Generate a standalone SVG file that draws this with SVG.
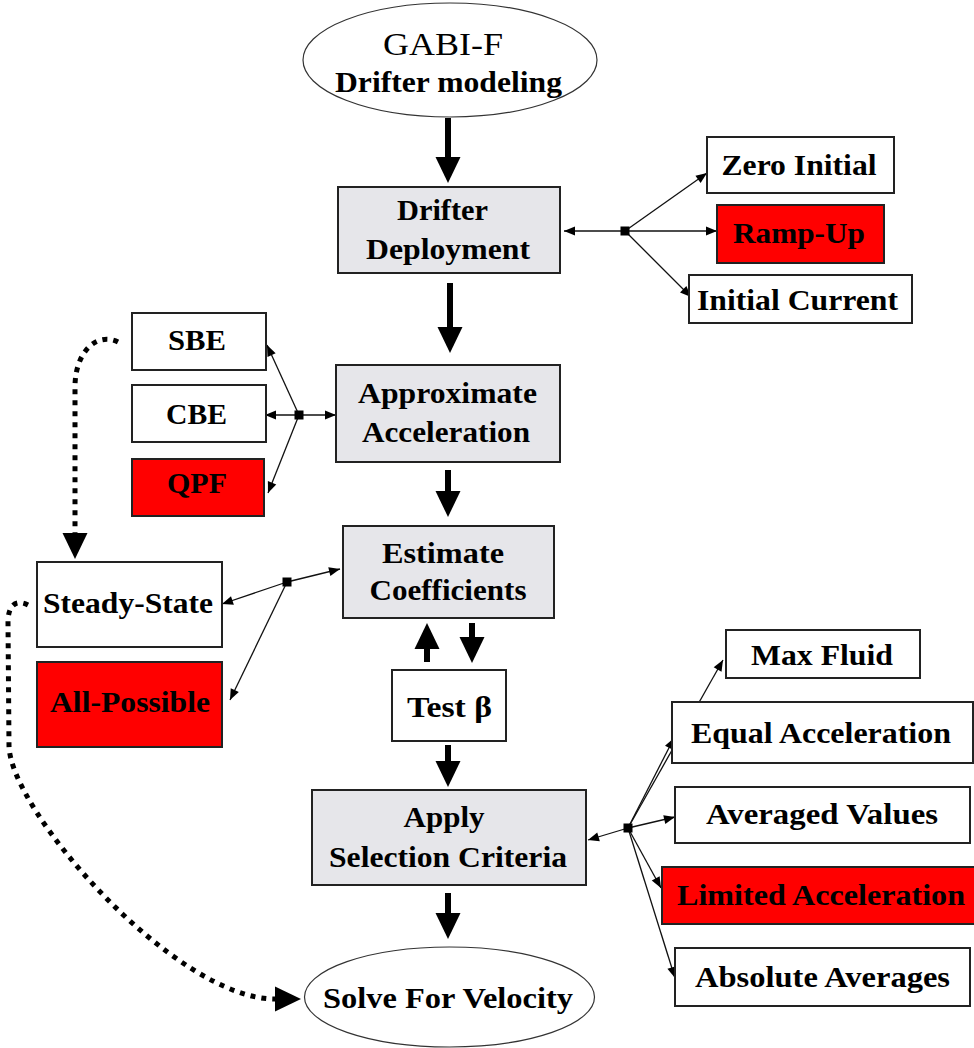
<svg xmlns="http://www.w3.org/2000/svg" width="974" height="1048" viewBox="0 0 974 1048">
  <defs>
    <style>
      .box { stroke: #222; stroke-width: 2; }
      .plain { fill: #fff; }
      .step { fill: #e6e6ea; }
      .hot { fill: #ff0000; }
      .oval { fill: #fff; stroke: #333; stroke-width: 1.2; }
      .t { font-family: "Liberation Serif", "Times New Roman", serif; font-weight: bold; font-size: 29px; text-anchor: middle; fill: #000; }
      .title { font-weight: normal; font-size: 32px; }
      .thin { fill: none; stroke: #111; stroke-width: 1.3; }
      .thick { fill: none; stroke: #000; stroke-width: 6; marker-end: url(#bigHead); }
      .dots { fill: none; stroke: #000; stroke-width: 5; stroke-dasharray: 5 6; marker-end: url(#bigHead); }
      .hub { fill: #000; }
    </style>
    <marker id="bigHead" markerUnits="userSpaceOnUse" markerWidth="26" markerHeight="25" refX="0" refY="12.5" orient="auto" overflow="visible">
      <path d="M0,0 L26,12.5 L0,25 z" fill="#000"/>
    </marker>
    <marker id="head" markerUnits="userSpaceOnUse" markerWidth="11" markerHeight="9" refX="11" refY="4.5" orient="auto" overflow="visible">
      <path d="M0,0 L11,4.5 L0,9 z" fill="#000"/>
    </marker>
  </defs>

  <!-- connectors, drawn below the nodes -->
  <g id="connectors">
    <!-- main flow -->
    <path class="thick" d="M448,118 L448,157"/>
    <path class="thick" d="M450,283 L450,327"/>
    <path class="thick" d="M448,470 L448,491"/>
    <path class="thick" d="M427,662 L427,649"/>
    <path class="thick" d="M472,623 L472,637"/>
    <path class="thick" d="M448,745 L448,761"/>
    <path class="thick" d="M448,893 L448,913"/>

    <!-- deployment options -->
    <g marker-end="url(#head)">
      <path class="thin" d="M625,231 L564,231"/>
      <path class="thin" d="M625,231 L707,173"/>
      <path class="thin" d="M625,231 L717,231"/>
      <path class="thin" d="M625,231 L691,297"/>
    </g>
    <rect class="hub" x="620.5" y="226.5" width="9" height="9"/>

    <!-- acceleration options -->
    <g marker-end="url(#head)">
      <path class="thin" d="M299,415 L267,345"/>
      <path class="thin" d="M299,415 L265,415"/>
      <path class="thin" d="M299,415 L268,493"/>
      <path class="thin" d="M299,415 L336,415"/>
    </g>
    <rect class="hub" x="294.5" y="410.5" width="9" height="9"/>

    <!-- coefficient options -->
    <g marker-end="url(#head)">
      <path class="thin" d="M287,582 L222,604"/>
      <path class="thin" d="M287,582 L340,569"/>
      <path class="thin" d="M287,582 L230,700"/>
    </g>
    <rect class="hub" x="282.5" y="577.5" width="9" height="9"/>

    <!-- selection criteria options -->
    <g marker-end="url(#head)">
      <path class="thin" d="M628,828 L588,840"/>
      <path class="thin" d="M628,828 L675,817"/>
      <path class="thin" d="M628,828 L674,738"/>
      <path class="thin" d="M628,828 L723,660"/>
      <path class="thin" d="M628,828 L661,888"/>
      <path class="thin" d="M628,828 L675,978"/>
    </g>
    <rect class="hub" x="623.5" y="823.5" width="9" height="9"/>

    <!-- dotted links -->
    <path class="dots" d="M118,342 C98,332 76,350 75,385 L75,533"/>
    <path class="dots" d="M28,605 C14,598 8,608 8,622 L9,745 C9,810 175,999 275,999"/>
  </g>

  <!-- nodes -->
  <g id="gabi">
    <ellipse class="oval" cx="450" cy="60" rx="147" ry="57"/>
    <text class="t title" x="443" y="55" textLength="120" lengthAdjust="spacingAndGlyphs">GABI-F</text>
    <text class="t" x="448.5" y="92" textLength="227" lengthAdjust="spacingAndGlyphs">Drifter modeling</text>
  </g>

  <g id="deployment">
    <rect class="box step" x="338" y="187" width="222" height="86"/>
    <text class="t" x="442.5" y="220" textLength="91" lengthAdjust="spacingAndGlyphs">Drifter</text>
    <text class="t" x="448" y="259" textLength="164" lengthAdjust="spacingAndGlyphs">Deployment</text>
  </g>

  <g id="zero-initial">
    <rect class="box plain" x="707" y="137" width="187" height="56"/>
    <text class="t" x="799" y="175" textLength="155" lengthAdjust="spacingAndGlyphs">Zero Initial</text>
  </g>

  <g id="ramp-up">
    <rect class="box hot" x="717" y="205" width="167" height="58"/>
    <text class="t" x="799" y="243" textLength="132" lengthAdjust="spacingAndGlyphs">Ramp-Up</text>
  </g>

  <g id="initial-current">
    <rect class="box plain" x="689" y="275" width="223" height="48"/>
    <text class="t" x="797.5" y="310" textLength="201" lengthAdjust="spacingAndGlyphs">Initial Current</text>
  </g>

  <g id="sbe">
    <rect class="box plain" x="132" y="313" width="134" height="57"/>
    <text class="t" x="197" y="350" textLength="58" lengthAdjust="spacingAndGlyphs">SBE</text>
  </g>

  <g id="cbe">
    <rect class="box plain" x="132" y="385" width="134" height="57"/>
    <text class="t" x="196.5" y="424" textLength="61" lengthAdjust="spacingAndGlyphs">CBE</text>
  </g>

  <g id="qpf">
    <rect class="box hot" x="132" y="459" width="132" height="57"/>
    <text class="t" x="197" y="493" textLength="60" lengthAdjust="spacingAndGlyphs">QPF</text>
  </g>

  <g id="approximate">
    <rect class="box step" x="336" y="365" width="224" height="97"/>
    <text class="t" x="447.5" y="403" textLength="179" lengthAdjust="spacingAndGlyphs">Approximate</text>
    <text class="t" x="446" y="442" textLength="168" lengthAdjust="spacingAndGlyphs">Acceleration</text>
  </g>

  <g id="estimate">
    <rect class="box step" x="343" y="526" width="211" height="92"/>
    <text class="t" x="443" y="563" textLength="122" lengthAdjust="spacingAndGlyphs">Estimate</text>
    <text class="t" x="448" y="600" textLength="157" lengthAdjust="spacingAndGlyphs">Coefficients</text>
  </g>

  <g id="steady-state">
    <rect class="box plain" x="37" y="562" width="185" height="85"/>
    <text class="t" x="128" y="613" textLength="170" lengthAdjust="spacingAndGlyphs">Steady-State</text>
  </g>

  <g id="all-possible">
    <rect class="box hot" x="37" y="662" width="185" height="85"/>
    <text class="t" x="130" y="712" textLength="160" lengthAdjust="spacingAndGlyphs">All-Possible</text>
  </g>

  <g id="test-beta">
    <rect class="box plain" x="392" y="670" width="114" height="71"/>
    <text class="t" x="449.5" y="717" textLength="85" lengthAdjust="spacingAndGlyphs">Test β</text>
  </g>

  <g id="apply">
    <rect class="box step" x="312" y="790" width="274" height="95"/>
    <text class="t" x="444" y="827" textLength="81" lengthAdjust="spacingAndGlyphs">Apply</text>
    <text class="t" x="448" y="867" textLength="238" lengthAdjust="spacingAndGlyphs">Selection Criteria</text>
  </g>

  <g id="max-fluid">
    <rect class="box plain" x="726" y="630" width="194" height="48"/>
    <text class="t" x="822" y="665" textLength="142" lengthAdjust="spacingAndGlyphs">Max Fluid</text>
  </g>

  <g id="equal-acceleration">
    <rect class="box plain" x="672" y="702" width="301" height="61"/>
    <text class="t" x="821" y="743" textLength="260" lengthAdjust="spacingAndGlyphs">Equal Acceleration</text>
  </g>

  <g id="averaged-values">
    <rect class="box plain" x="675" y="787" width="295" height="56"/>
    <text class="t" x="822" y="824" textLength="232" lengthAdjust="spacingAndGlyphs">Averaged Values</text>
  </g>

  <g id="limited-acceleration">
    <rect class="box hot" x="662" y="867" width="316" height="57"/>
    <text class="t" x="821" y="905" textLength="288" lengthAdjust="spacingAndGlyphs">Limited Acceleration</text>
  </g>

  <g id="absolute-averages">
    <rect class="box plain" x="675" y="948" width="295" height="58"/>
    <text class="t" x="822.5" y="987" textLength="255" lengthAdjust="spacingAndGlyphs">Absolute Averages</text>
  </g>

  <g id="solve-velocity">
    <ellipse class="oval" cx="449.5" cy="997" rx="145" ry="50"/>
    <text class="t" x="448" y="1008" textLength="250" lengthAdjust="spacingAndGlyphs">Solve For Velocity</text>
  </g>
</svg>
